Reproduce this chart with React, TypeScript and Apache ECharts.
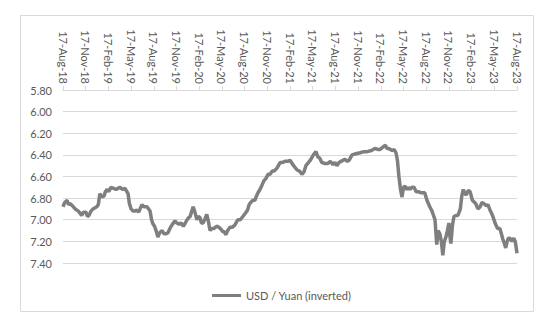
import React, { useEffect, useRef } from "react";
import * as echarts from "echarts";

const tickLabels = [
  "17-Aug-18", "17-Nov-18", "17-Feb-19", "17-May-19", "17-Aug-19", "17-Nov-19", "17-Feb-20",
  "17-May-20", "17-Aug-20", "17-Nov-20", "17-Feb-21", "17-May-21", "17-Aug-21", "17-Nov-21",
  "17-Feb-22", "17-May-22", "17-Aug-22", "17-Nov-22", "17-Feb-23", "17-May-23", "17-Aug-23",
];

const dates = [
  "2018-08-17", "2018-08-24", "2018-09-03", "2018-09-09", "2018-09-15", "2018-09-24", "2018-10-05",
  "2018-10-18", "2018-11-01", "2018-11-08", "2018-11-18", "2018-11-24", "2018-11-30",
  "2018-12-08", "2018-12-16", "2019-01-01", "2019-01-07", "2019-01-13", "2019-01-22", "2019-01-30",
  "2019-02-05", "2019-02-11", "2019-02-19", "2019-02-27", "2019-03-08", "2019-03-17",
  "2019-03-25", "2019-04-03", "2019-04-13", "2019-04-23", "2019-05-05", "2019-05-10", "2019-05-17",
  "2019-05-25", "2019-06-03", "2019-06-10", "2019-06-17", "2019-06-30", "2019-07-08",
  "2019-07-20", "2019-08-02", "2019-08-08", "2019-08-14", "2019-08-20", "2019-08-26", "2019-09-03",
  "2019-09-10", "2019-09-20", "2019-09-28", "2019-10-06", "2019-10-13",
  "2019-10-21", "2019-11-01", "2019-11-11", "2019-11-18", "2019-11-27", "2019-12-05", "2019-12-14",
  "2019-12-22", "2019-12-29", "2020-01-05", "2020-01-11", "2020-01-23", "2020-01-29",
  "2020-02-08", "2020-02-14", "2020-02-20", "2020-02-26", "2020-03-02", "2020-03-10", "2020-03-17",
  "2020-03-24", "2020-03-30", "2020-04-08", "2020-04-16", "2020-04-26", "2020-05-06",
  "2020-05-14", "2020-05-21", "2020-05-27", "2020-06-02", "2020-06-10", "2020-06-19", "2020-06-28",
  "2020-07-08", "2020-07-20", "2020-07-30", "2020-08-10", "2020-08-20", "2020-08-29",
  "2020-09-05", "2020-09-11", "2020-09-20", "2020-09-28", "2020-10-04", "2020-10-10", "2020-10-18",
  "2020-10-26", "2020-11-03", "2020-11-11", "2020-11-20", "2020-11-28", "2020-12-06", "2020-12-14",
  "2020-12-26", "2021-01-08", "2021-01-18", "2021-01-27", "2021-02-07", "2021-02-17", "2021-03-01",
  "2021-03-15", "2021-03-25", "2021-04-04", "2021-04-12", "2021-04-20", "2021-05-07",
  "2021-05-20", "2021-05-30", "2021-06-08", "2021-06-15", "2021-06-23", "2021-07-05", "2021-07-17",
  "2021-07-27", "2021-08-07", "2021-08-15", "2021-08-23", "2021-09-01", "2021-09-09",
  "2021-09-25", "2021-10-04", "2021-10-11", "2021-10-23", "2021-11-08", "2021-11-25", "2021-12-10",
  "2021-12-23", "2022-01-10", "2022-01-24", "2022-02-05", "2022-02-14", "2022-02-24",
  "2022-03-05", "2022-03-11", "2022-03-17", "2022-04-02", "2022-04-10", "2022-04-17", "2022-04-23",
  "2022-04-29", "2022-05-05", "2022-05-11", "2022-05-17", "2022-05-23", "2022-05-31",
  "2022-06-06", "2022-06-13", "2022-06-20", "2022-06-29", "2022-07-07", "2022-07-15", "2022-07-25",
  "2022-08-03", "2022-08-11", "2022-08-20", "2022-09-01", "2022-09-10", "2022-09-22",
  "2022-09-29", "2022-10-04", "2022-10-11", "2022-10-17", "2022-10-23", "2022-10-29", "2022-11-05",
  "2022-11-11", "2022-11-17", "2022-11-21", "2022-11-25", "2022-12-01", "2022-12-07",
  "2022-12-15", "2022-12-23", "2023-01-02", "2023-01-08", "2023-01-14", "2023-01-20", "2023-01-26",
  "2023-02-03", "2023-02-11", "2023-02-20", "2023-03-03", "2023-03-12", "2023-03-21",
  "2023-03-28", "2023-04-05", "2023-04-15", "2023-04-22", "2023-04-30", "2023-05-10", "2023-05-20",
  "2023-05-30", "2023-06-09", "2023-06-15", "2023-06-21", "2023-06-27", "2023-07-02", "2023-07-08",
  "2023-07-13", "2023-07-19", "2023-07-27", "2023-08-04", "2023-08-10", "2023-08-17",
];

const usdYuan = [
  6.88, 6.84, 6.82, 6.86, 6.85, 6.87, 6.9,
  6.92, 6.96, 6.93, 6.93, 6.97, 6.96,
  6.92, 6.9, 6.88, 6.86, 6.76, 6.79, 6.78,
  6.74, 6.72, 6.74, 6.7, 6.71, 6.72,
  6.71, 6.7, 6.72, 6.71, 6.76, 6.85, 6.9,
  6.92, 6.92, 6.91, 6.93, 6.86, 6.88,
  6.88, 6.92, 7.0, 7.04, 7.06, 7.1, 7.16,
  7.12, 7.1, 7.13, 7.13, 7.12,
  7.08, 7.04, 7.01, 7.03, 7.04, 7.03, 7.06,
  7.03, 7.0, 6.98, 6.97, 6.88, 6.92,
  7.0, 6.97, 6.98, 7.03, 7.03, 6.99, 6.95,
  7.02, 7.1, 7.08, 7.08, 7.06, 7.07,
  7.09, 7.11, 7.11, 7.14, 7.1, 7.07, 7.07,
  7.05, 7.0, 7.0, 6.97, 6.94, 6.91,
  6.86, 6.84, 6.82, 6.82, 6.78, 6.75, 6.72,
  6.68, 6.64, 6.62, 6.58, 6.58, 6.55, 6.55,
  6.52, 6.47, 6.47, 6.46, 6.46, 6.45, 6.5,
  6.54, 6.55, 6.58, 6.56, 6.5, 6.45,
  6.4, 6.37, 6.42, 6.43, 6.47, 6.48, 6.48,
  6.46, 6.49, 6.47, 6.5, 6.47, 6.46,
  6.44, 6.46, 6.45, 6.4, 6.39, 6.38, 6.37,
  6.37, 6.36, 6.34, 6.35, 6.35, 6.33,
  6.31, 6.34, 6.34, 6.36, 6.35, 6.38, 6.45,
  6.6, 6.72, 6.79, 6.7, 6.69, 6.72,
  6.7, 6.72, 6.7, 6.7, 6.74, 6.74, 6.75,
  6.75, 6.75, 6.82, 6.88, 6.92, 7.0,
  7.23, 7.1, 7.13, 7.2, 7.33, 7.2, 7.16,
  7.1, 7.03, 7.15, 7.22, 7.05, 6.97,
  6.96, 6.96, 6.9, 6.78, 6.72, 6.76, 6.77,
  6.73, 6.74, 6.82, 6.85, 6.9, 6.88,
  6.84, 6.85, 6.87, 6.86, 6.91, 6.96, 7.03,
  7.08, 7.08, 7.13, 7.18, 7.22, 7.26, 7.2,
  7.17, 7.17, 7.2, 7.17, 7.2, 7.31,
];

// months since 17-Aug-2018
function toMonths(d: string): number {
  const [y, m, day] = d.split("-").map(Number);
  return (y - 2018) * 12 + (m - 8) + (day - 17) / 30.4;
}

export default function App() {
  const ref = useRef<HTMLDivElement>(null);
  useEffect(() => {
    if (!ref.current) return;
    const chart = echarts.init(ref.current, undefined, { renderer: "svg" });
    const font = "Lato, 'Open Sans', sans-serif";
    const n = Math.min(dates.length, usdYuan.length);
    const data = [] as [number, number][];
    for (let i = 0; i < n; i++) data.push([toMonths(dates[i]), usdYuan[i]]);
    chart.setOption({
      animation: false,
      backgroundColor: "#ffffff",
      graphic: [
        {
          type: "rect",
          shape: { x: 20.5, y: 15.5, width: 513, height: 296 },
          style: { fill: "none", stroke: "#d9d9d9", lineWidth: 1 },
          silent: true,
        },
      ],
      grid: { left: 63, right: 33, top: 90, bottom: 67 },
      legend: {
        left: 207,
        top: 285,
        icon: "rect",
        itemWidth: 29,
        itemHeight: 3,
        itemGap: 4,
        textStyle: { color: "#595959", fontSize: 11, fontFamily: font },
        data: ["USD / Yuan (inverted)"],
      },
      xAxis: {
        type: "value",
        position: "top",
        min: 0,
        max: 60,
        interval: 3,
        axisLine: { show: true, onZero: false, lineStyle: { color: "#d9d9d9" } },
        axisTick: { show: true, length: 4, lineStyle: { color: "#d9d9d9" } },
        splitLine: { show: false },
        axisLabel: {
          rotate: 90,
          margin: 6,
          color: "#595959",
          fontSize: 11,
          fontFamily: font,
          formatter: (v: number) => tickLabels[Math.round(v / 3)] ?? "",
        },
      },
      yAxis: {
        type: "value",
        inverse: true,
        min: 5.8,
        max: 7.4,
        interval: 0.2,
        axisLine: { show: false },
        axisTick: { show: false },
        splitLine: { show: true, lineStyle: { color: "#d9d9d9" } },
        axisLabel: {
          color: "#595959",
          fontSize: 11,
          fontFamily: font,
          margin: 11,
          formatter: (v: number) => v.toFixed(2),
        },
      },
      series: [
        {
          name: "USD / Yuan (inverted)",
          type: "line",
          showSymbol: false,
          symbol: "none",
          lineStyle: { color: "#7f7f7f", width: 3.5 },
          itemStyle: { color: "#7f7f7f" },
          data,
        },
      ],
    });
    return () => chart.dispose();
  }, []);
  return (
    <div
      ref={ref}
      style={{ position: "absolute", left: 0, top: 0, width: 550, height: 330 }}
    />
  );
}
